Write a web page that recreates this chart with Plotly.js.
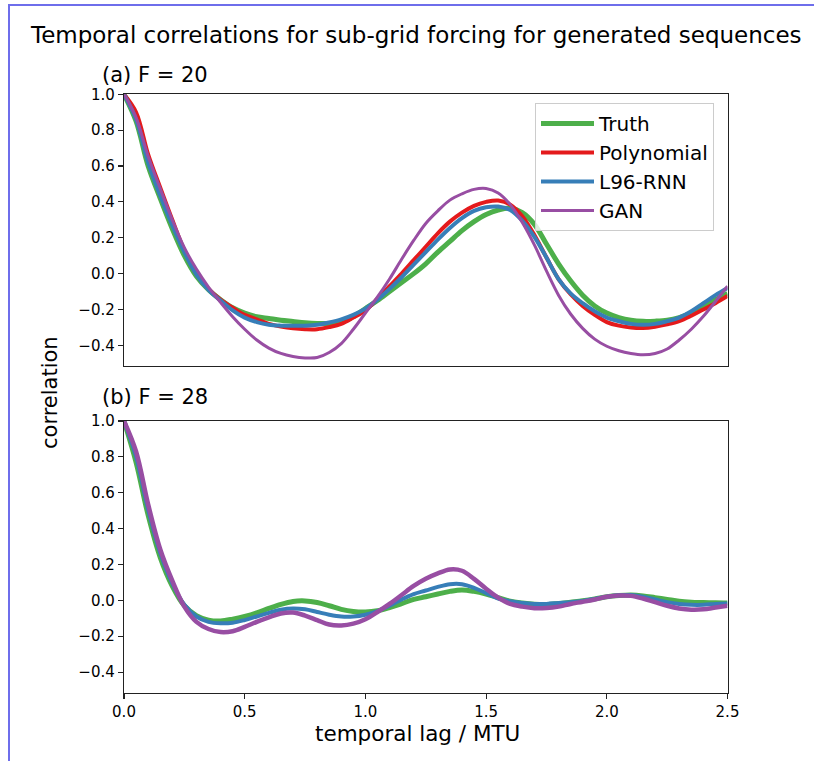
<!DOCTYPE html>
<html>
<head>
<meta charset="utf-8">
<script src="https://cdn.plot.ly/plotly-3.0.1.min.js"></script>
<style>
  html, body { margin: 0; padding: 0; background: #fff; }
  #wrap { position: relative; width: 814px; height: 761px; overflow: hidden; }
  #frame { position: absolute; left: 8px; top: 4px; right: -4px; bottom: -4px;
           border-left: 2px solid rgb(110,110,235); border-top: 2px solid rgb(110,110,235); pointer-events: none; }
  #chart { position: absolute; left: 0; top: 0; width: 814px; height: 761px; }
</style>
</head>
<body>
<div id="wrap"><div id="chart"></div><div id="frame"></div></div>
<script>
// temporal lag grid (MTU), step 0.05
const lag = [0.00, 0.05, 0.10, 0.15, 0.20, 0.25, 0.30, 0.35, 0.40, 0.45, 0.50, 0.55, 0.60, 0.65, 0.70, 0.75, 0.80, 0.85, 0.90, 0.95,
             1.00, 1.05, 1.10, 1.15, 1.20, 1.25, 1.30, 1.35, 1.40, 1.45, 1.50, 1.55, 1.60, 1.65, 1.70, 1.75, 1.80, 1.85, 1.90, 1.95,
             2.00, 2.05, 2.10, 2.15, 2.20, 2.25, 2.30, 2.35, 2.40, 2.45, 2.50];

const seriesNames = ["Truth", "Polynomial", "L96-RNN", "GAN"];

// (a) F = 20
const truthF20 = [1.0, 0.85, 0.60, 0.42, 0.25, 0.10, -0.015, -0.09, -0.145, -0.19, -0.22, -0.24, -0.25, -0.26, -0.267, -0.274, -0.278, -0.278, -0.27, -0.24,
                  -0.195, -0.15, -0.10, -0.05, 0.0, 0.055, 0.12, 0.18, 0.24, 0.29, 0.33, 0.355, 0.365, 0.34, 0.275, 0.165, 0.055, -0.04, -0.12, -0.18,
                  -0.22, -0.245, -0.26, -0.266, -0.265, -0.26, -0.245, -0.22, -0.18, -0.145, -0.11];
const polyF20  = [1.0, 0.90, 0.665, 0.48, 0.30, 0.13, 0.0, -0.085, -0.145, -0.19, -0.23, -0.255, -0.28, -0.295, -0.305, -0.31, -0.31, -0.298, -0.28, -0.245,
                  -0.205, -0.14, -0.07, 0.0, 0.075, 0.15, 0.225, 0.29, 0.34, 0.378, 0.40, 0.408, 0.385, 0.32, 0.215, 0.09, -0.03, -0.115, -0.18, -0.23,
                  -0.27, -0.29, -0.30, -0.303, -0.296, -0.283, -0.265, -0.235, -0.20, -0.165, -0.125];
const rnnF20   = [1.0, 0.86, 0.62, 0.435, 0.27, 0.12, -0.005, -0.09, -0.15, -0.205, -0.245, -0.27, -0.285, -0.29, -0.291, -0.29, -0.285, -0.272, -0.255, -0.23,
                  -0.195, -0.145, -0.085, -0.02, 0.05, 0.12, 0.19, 0.255, 0.31, 0.35, 0.37, 0.374, 0.355, 0.295, 0.205, 0.09, -0.03, -0.11, -0.165, -0.21,
                  -0.245, -0.265, -0.28, -0.285, -0.28, -0.265, -0.245, -0.21, -0.165, -0.12, -0.08];
const ganF20   = [1.0, 0.87, 0.655, 0.475, 0.30, 0.145, 0.025, -0.075, -0.16, -0.24, -0.31, -0.37, -0.415, -0.445, -0.462, -0.47, -0.468, -0.44, -0.39, -0.31,
                  -0.22, -0.13, -0.03, 0.08, 0.185, 0.28, 0.35, 0.41, 0.445, 0.47, 0.475, 0.45, 0.385, 0.285, 0.16, 0.015, -0.12, -0.225, -0.305, -0.365,
                  -0.405, -0.43, -0.445, -0.452, -0.445, -0.42, -0.37, -0.31, -0.238, -0.155, -0.07];

// (b) F = 28
const truthF28 = [1.0, 0.77, 0.475, 0.24, 0.08, -0.03, -0.085, -0.11, -0.115, -0.105, -0.09, -0.07, -0.045, -0.022, -0.006, -0.003, -0.012, -0.03, -0.05, -0.062,
                  -0.065, -0.058, -0.04, -0.018, 0.005, 0.02, 0.035, 0.05, 0.058, 0.05, 0.035, 0.015, -0.005, -0.015, -0.022, -0.024, -0.018, -0.01, -0.002, 0.008,
                  0.02, 0.027, 0.03, 0.025, 0.015, 0.005, -0.005, -0.01, -0.012, -0.014, -0.015];
const rnnF28   = [1.0, 0.80, 0.505, 0.265, 0.095, -0.025, -0.09, -0.12, -0.128, -0.125, -0.11, -0.09, -0.07, -0.052, -0.045, -0.05, -0.065, -0.08, -0.09, -0.09,
                  -0.08, -0.06, -0.03, 0.005, 0.035, 0.055, 0.075, 0.09, 0.09, 0.07, 0.04, 0.01, -0.005, -0.015, -0.02, -0.02, -0.015, -0.01, -0.003, 0.008,
                  0.02, 0.028, 0.03, 0.02, 0.005, -0.01, -0.02, -0.025, -0.025, -0.02, -0.018];
const ganF28   = [1.0, 0.83, 0.535, 0.285, 0.11, -0.035, -0.12, -0.16, -0.177, -0.172, -0.148, -0.12, -0.095, -0.073, -0.068, -0.085, -0.11, -0.135, -0.14, -0.13,
                  -0.105, -0.065, -0.02, 0.03, 0.08, 0.12, 0.15, 0.172, 0.165, 0.12, 0.065, 0.015, -0.02, -0.035, -0.044, -0.043, -0.035, -0.02, -0.008, 0.005,
                  0.02, 0.027, 0.025, 0.01, -0.01, -0.03, -0.045, -0.052, -0.05, -0.04, -0.03];

const panelTitles = ["(a) F = 20", "(b) F = 28"];
const yTicks = [-0.4, -0.2, 0.0, 0.2, 0.4, 0.6, 0.8, 1.0];
const xTicks = [0.0, 0.5, 1.0, 1.5, 2.0, 2.5];

const colors = {"Truth": "#4daf4a", "Polynomial": "#e41a1c", "L96-RNN": "#377eb8", "GAN": "#984ea3"};
const FONT = "DejaVu Sans, sans-serif";

function tr(y, name, width, xa, ya, show) {
  return {x: lag, y: y, type: "scatter", mode: "lines", name: name,
          line: {color: colors[name], width: width, shape: "spline", smoothing: 1},
          xaxis: xa, yaxis: ya, showlegend: show, hoverinfo: "skip"};
}

const data = [
  tr(truthF20, seriesNames[0], 5, "x", "y", true),
  tr(polyF20, seriesNames[1], 4, "x", "y", true),
  tr(rnnF20, seriesNames[2], 4, "x", "y", true),
  tr(ganF20, seriesNames[3], 3, "x", "y", true),
  tr(truthF28, seriesNames[0], 5, "x2", "y2", false),
  tr(rnnF28, seriesNames[2], 4, "x2", "y2", false),
  tr(ganF28, seriesNames[3], 4.5, "x2", "y2", false)
];

const W = 814, H = 761;
const px = v => v / W, py = v => 1 - v / H;

const axCommon = {showline: true, mirror: true, linecolor: "#222", linewidth: 1.2, showgrid: false, zeroline: false,
                  ticks: "outside", ticklen: 5, tickwidth: 1.1, tickcolor: "#222",
                  tickfont: {family: FONT, size: 15, color: "#000"}, range: [0, 2.5], tickvals: xTicks, tickformat: ".1f"};
const yCommon = {showline: true, mirror: true, linecolor: "#222", linewidth: 1.2, showgrid: false, zeroline: false,
                 ticks: "outside", ticklen: 5, tickwidth: 1.1, tickcolor: "#222",
                 tickfont: {family: FONT, size: 15, color: "#000"}, range: [-0.515, 1.0], tickvals: yTicks, tickformat: ".1f"};

const layout = {
  width: W, height: H,
  margin: {l: 0, r: 0, t: 0, b: 0},
  paper_bgcolor: "rgba(0,0,0,0)", plot_bgcolor: "#fff",
  font: {family: FONT, color: "#000"},
  xaxis: Object.assign({}, axCommon, {domain: [px(124), px(727.5)], anchor: "y", showticklabels: false, ticks: ""}),
  yaxis: Object.assign({}, yCommon, {domain: [py(366), py(94.3)], anchor: "x"}),
  xaxis2: Object.assign({}, axCommon, {domain: [px(124), px(727.5)], anchor: "y2"}),
  yaxis2: Object.assign({}, yCommon, {domain: [py(692.7), py(421)], anchor: "x2"}),
  legend: {x: px(535), y: py(103), xanchor: "left", yanchor: "top",
           bgcolor: "rgba(255,255,255,0.8)", bordercolor: "#cccccc", borderwidth: 1,
           font: {family: FONT, size: 20, color: "#000"}, itemwidth: 53, tracegroupgap: 0},
  showlegend: true,
  annotations: [
    {text: "Temporal correlations for sub-grid forcing for generated sequences", x: px(416), y: py(35),
     xref: "paper", yref: "paper", xanchor: "center", yanchor: "middle", showarrow: false, font: {family: FONT, size: 23}},
    {text: panelTitles[0], x: px(100), y: py(75), xref: "paper", yref: "paper", xanchor: "left", yanchor: "middle",
     showarrow: false, font: {family: FONT, size: 21}},
    {text: panelTitles[1], x: px(100), y: py(397), xref: "paper", yref: "paper", xanchor: "left", yanchor: "middle",
     showarrow: false, font: {family: FONT, size: 21}},
    {text: "correlation", x: px(50), y: py(393), xref: "paper", yref: "paper", xanchor: "center", yanchor: "middle",
     textangle: -90, showarrow: false, font: {family: FONT, size: 21}},
    {text: "temporal lag / MTU", x: px(417), y: py(733), xref: "paper", yref: "paper", xanchor: "center", yanchor: "middle",
     showarrow: false, font: {family: FONT, size: 21.5}}
  ]
};

Plotly.newPlot("chart", data, layout, {staticPlot: true, displayModeBar: false});
</script>
</body>
</html>
